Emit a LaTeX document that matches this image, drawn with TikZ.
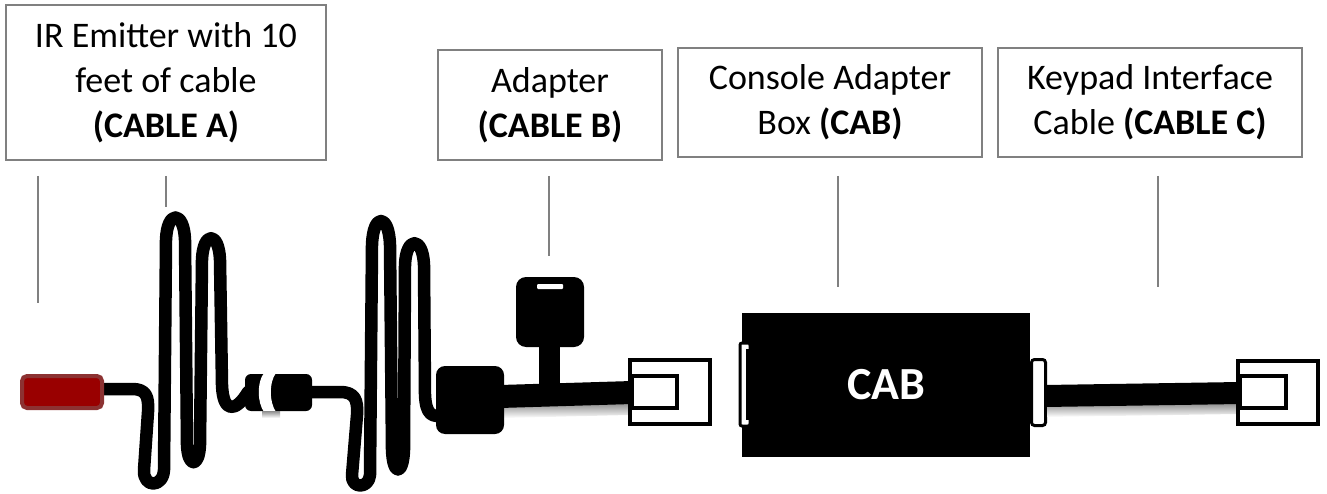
\documentclass[tikz,border=0pt]{standalone}
\usepackage{fontspec}
\setmainfont{Carlito}
\definecolor{boxgray}{RGB}{128,128,128}
\definecolor{emred}{RGB}{153,0,0}
\definecolor{emborder}{RGB}{140,50,50}
\begin{document}
\begin{tikzpicture}[x=1pt,y=-1pt,
  lbl/.style={draw=boxgray, line width=2pt, align=center, inner sep=0pt,
    font=\fontsize{36}{45}\selectfont},
  lead/.style={draw=boxgray, line width=2pt},
  cable/.style={draw=black, line width=12.5pt, line cap=round, line join=round},
  plugbox/.style={draw=black, fill=white, line width=4pt},
  plugin/.style={draw=black, line width=4pt},
  sockw/.style={draw=black, fill=white, line width=3pt, rounded corners=3pt},
  shadowb/.style={top color=black!45, bottom color=white, draw=none},
]
\useasboundingbox (0,0) rectangle (1327,494);

% ---------- label boxes ----------
\node[lbl, minimum width=320pt, minimum height=155pt] (boxA) at (166,82.5)
  {IR Emitter with 10\\feet of cable\\\textbf{(CABLE A)}};
\node[lbl, minimum width=224pt, minimum height=110pt] (boxB) at (550,105)
  {Adapter\\\textbf{(CABLE B)}};
\node[lbl, minimum width=304pt, minimum height=109pt] (boxCAB) at (830,102.5)
  {Console Adapter\\Box \textbf{(CAB)}};
\node[lbl, minimum width=304pt, minimum height=109pt] (boxC) at (1150,102.5)
  {Keypad Interface\\Cable \textbf{(CABLE C)}};

% ---------- leader lines ----------
\coordinate (l1t) at (38,176);   \coordinate (l1b) at (38,303);
\coordinate (l2t) at (166,176);  \coordinate (l2b) at (166,207);
\coordinate (l3t) at (549,176);  \coordinate (l3b) at (549,256);
\coordinate (l4t) at (838,176);  \coordinate (l4b) at (838,287);
\coordinate (l5t) at (1158,176); \coordinate (l5b) at (1158,287);
\draw[lead] (l1t) -- (l1b);
\draw[lead] (l2t) -- (l2b);
\draw[lead] (l3t) -- (l3b);
\draw[lead] (l4t) -- (l4b);
\draw[lead] (l5t) -- (l5b);

% ---------- cable A, coil 1 ----------
\draw[cable] (100,389) -- (132,389) .. controls (146,389) and (149,396) .. (148,412)
  -- (144,470) .. controls (143,488) and (163,488) .. (164,470)
  -- (166,240) .. controls (167,210) and (184,210) .. (185,240)
  -- (187,445) .. controls (188,468) and (199,468) .. (200,445)
  -- (202,260) .. controls (203,231) and (219,231) .. (220,260)
  -- (222,385) .. controls (223,414) and (236,412) .. (248,392);

% ---------- cable A, coil 2 ----------
\draw[cable] (305,392) -- (340,392) .. controls (355,392) and (358,400) .. (357,415)
  -- (352,475) .. controls (351,489) and (369,489) .. (370,475)
  -- (372,245) .. controls (373,213) and (389,213) .. (390,245)
  -- (392,450) .. controls (393,476) and (403,476) .. (404,450)
  -- (405,265) .. controls (406,236) and (423,236) .. (424,265)
  -- (425,395) .. controls (426,415) and (432,418) .. (445,415);

% ---------- IR emitter ----------
\node[draw=emborder, fill=emred, line width=4pt, rounded corners=5pt,
  minimum width=80pt, minimum height=32pt, inner sep=0pt] (emit) at (62,392) {};

% ---------- in-line connector ----------
\fill[rounded corners=6pt] (245,374) rectangle (312,411);
\fill[white] (264,373) .. controls (257,382) and (257,402) .. (264,412)
  -- (276,412) .. controls (269,402) and (269,382) .. (276,373) -- cycle;
\shade[shadowb] (262,411) rectangle (280,418);

% ---------- adapter (cable B) ----------
\shade[shadowb] (504,406) -- (628,403) -- (628,415) -- (504,418) -- cycle;
\fill (500,385) -- (632,381) -- (632,404) -- (500,408) -- cycle;
\fill (539,340) rectangle (560,392);
\fill[rounded corners=9pt] (436,366) rectangle (504,434);
\fill[rounded corners=10pt] (516,277) rectangle (584,347);
\fill[white, rounded corners=1pt] (537,284) rectangle (563,289);
\draw[plugbox] (630,360) rectangle (710,424);
\draw[plugin] (632,376) rectangle (677,408);

% ---------- console adapter box ----------
\node[fill=black, minimum width=288pt, minimum height=144pt, inner sep=0pt,
  text=white, font=\fontsize{46}{50}\selectfont\bfseries] (cab) at (886,385) {CAB};
\draw[sockw, rounded corners=2pt] (740,343) rectangle (750,426);
\draw[line width=3pt] (747,349) -- (747,420);
\draw[sockw] (1031.5,359.5) rectangle (1045.5,425.5);

% ---------- keypad interface cable (cable C) ----------
\shade[shadowb] (1047,406) -- (1236,403) -- (1236,414) -- (1047,417) -- cycle;
\fill (1045,385) -- (1240,382) -- (1240,404) -- (1045,407) -- cycle;
\draw[plugbox] (1238,361) rectangle (1318,424);
\draw[plugin] (1240,376) rectangle (1286,408);
\end{tikzpicture}
\end{document}
